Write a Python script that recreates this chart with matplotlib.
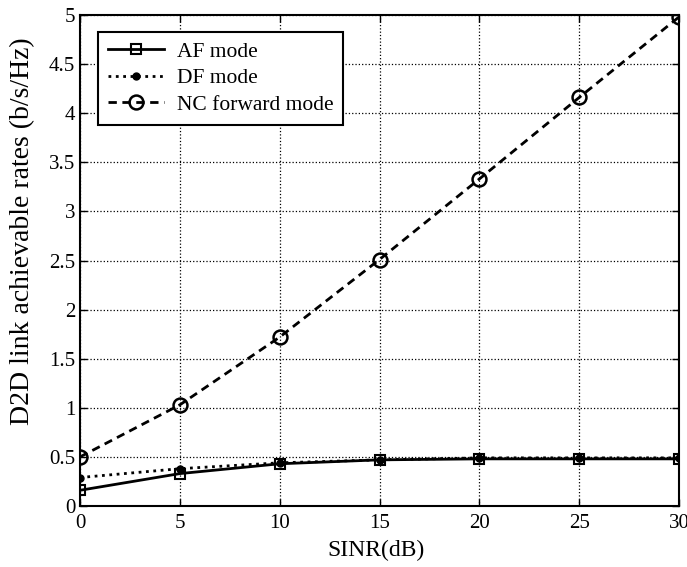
import numpy as np
import matplotlib.pyplot as plt

plt.rcParams['font.family'] = ['Liberation Serif', 'DejaVu Serif']
plt.rcParams['mathtext.fontset'] = 'stix'

sinr = [0, 5, 10, 15, 20, 25, 30]
af_rate = [0.16, 0.33, 0.43, 0.47, 0.48, 0.48, 0.48]
df_rate = [0.29, 0.38, 0.44, 0.47, 0.49, 0.49, 0.49]
nc_rate = [0.50, 1.03, 1.72, 2.51, 3.33, 4.16, 4.98]

x_ticks = [0, 5, 10, 15, 20, 25, 30]
y_ticks = [0, 0.5, 1, 1.5, 2, 2.5, 3, 3.5, 4, 4.5, 5]
y_labels = ['0', '0.5', '1', '1.5', '2', '2.5', '3', '3.5', '4', '4.5', '5']

fig = plt.figure(figsize=(6.87, 5.67), dpi=100)
ax = fig.add_axes([80 / 687, 1 - 506 / 567, 599 / 687, 491 / 567])

ax.plot(sinr, df_rate, ':', color='k', linewidth=2, marker='o', markersize=5,
        markerfacecolor='k', label='DF mode')
ax.plot(sinr, af_rate, '-', color='k', linewidth=2, marker='s', markersize=7,
        markerfacecolor='none', markeredgewidth=1.5, label='AF mode')
ax.plot(sinr, nc_rate, '--', color='k', linewidth=2, dashes=(3, 2), marker='o',
        markersize=10, markerfacecolor='none', markeredgewidth=1.8,
        label='NC forward mode')

ax.set_xlim(0, 30)
ax.set_ylim(0, 5)
ax.set_xticks(x_ticks)
ax.set_yticks(y_ticks)
ax.set_yticklabels(y_labels)
ax.tick_params(direction='in', top=True, right=True, labelsize=15, length=5, width=1)
ax.tick_params(axis='x', pad=6)
ax.grid(True, color='k', linestyle=':', linewidth=0.9)
for s in ax.spines.values():
    s.set_linewidth(1.5)

ax.set_xlabel('SINR(dB)', fontsize=17)
ax.set_ylabel('D2D link achievable rates (b/s/Hz)', fontsize=20)
ax.xaxis.set_label_coords(0.494, -0.07)
ax.yaxis.set_label_coords(-0.075, 0.56)

handles, labels = ax.get_legend_handles_labels()
order = [1, 0, 2]
leg = ax.legend([handles[i] for i in order], [labels[i] for i in order],
                loc='upper left', bbox_to_anchor=(0.03, 0.965), borderaxespad=0,
                fontsize=15.5, fancybox=False, framealpha=1, edgecolor='k',
                handlelength=2.6, borderpad=0.45, labelspacing=0.3,
                handletextpad=0.6)
leg.get_frame().set_linewidth(1.5)

fig.savefig('out.png', dpi=100)
